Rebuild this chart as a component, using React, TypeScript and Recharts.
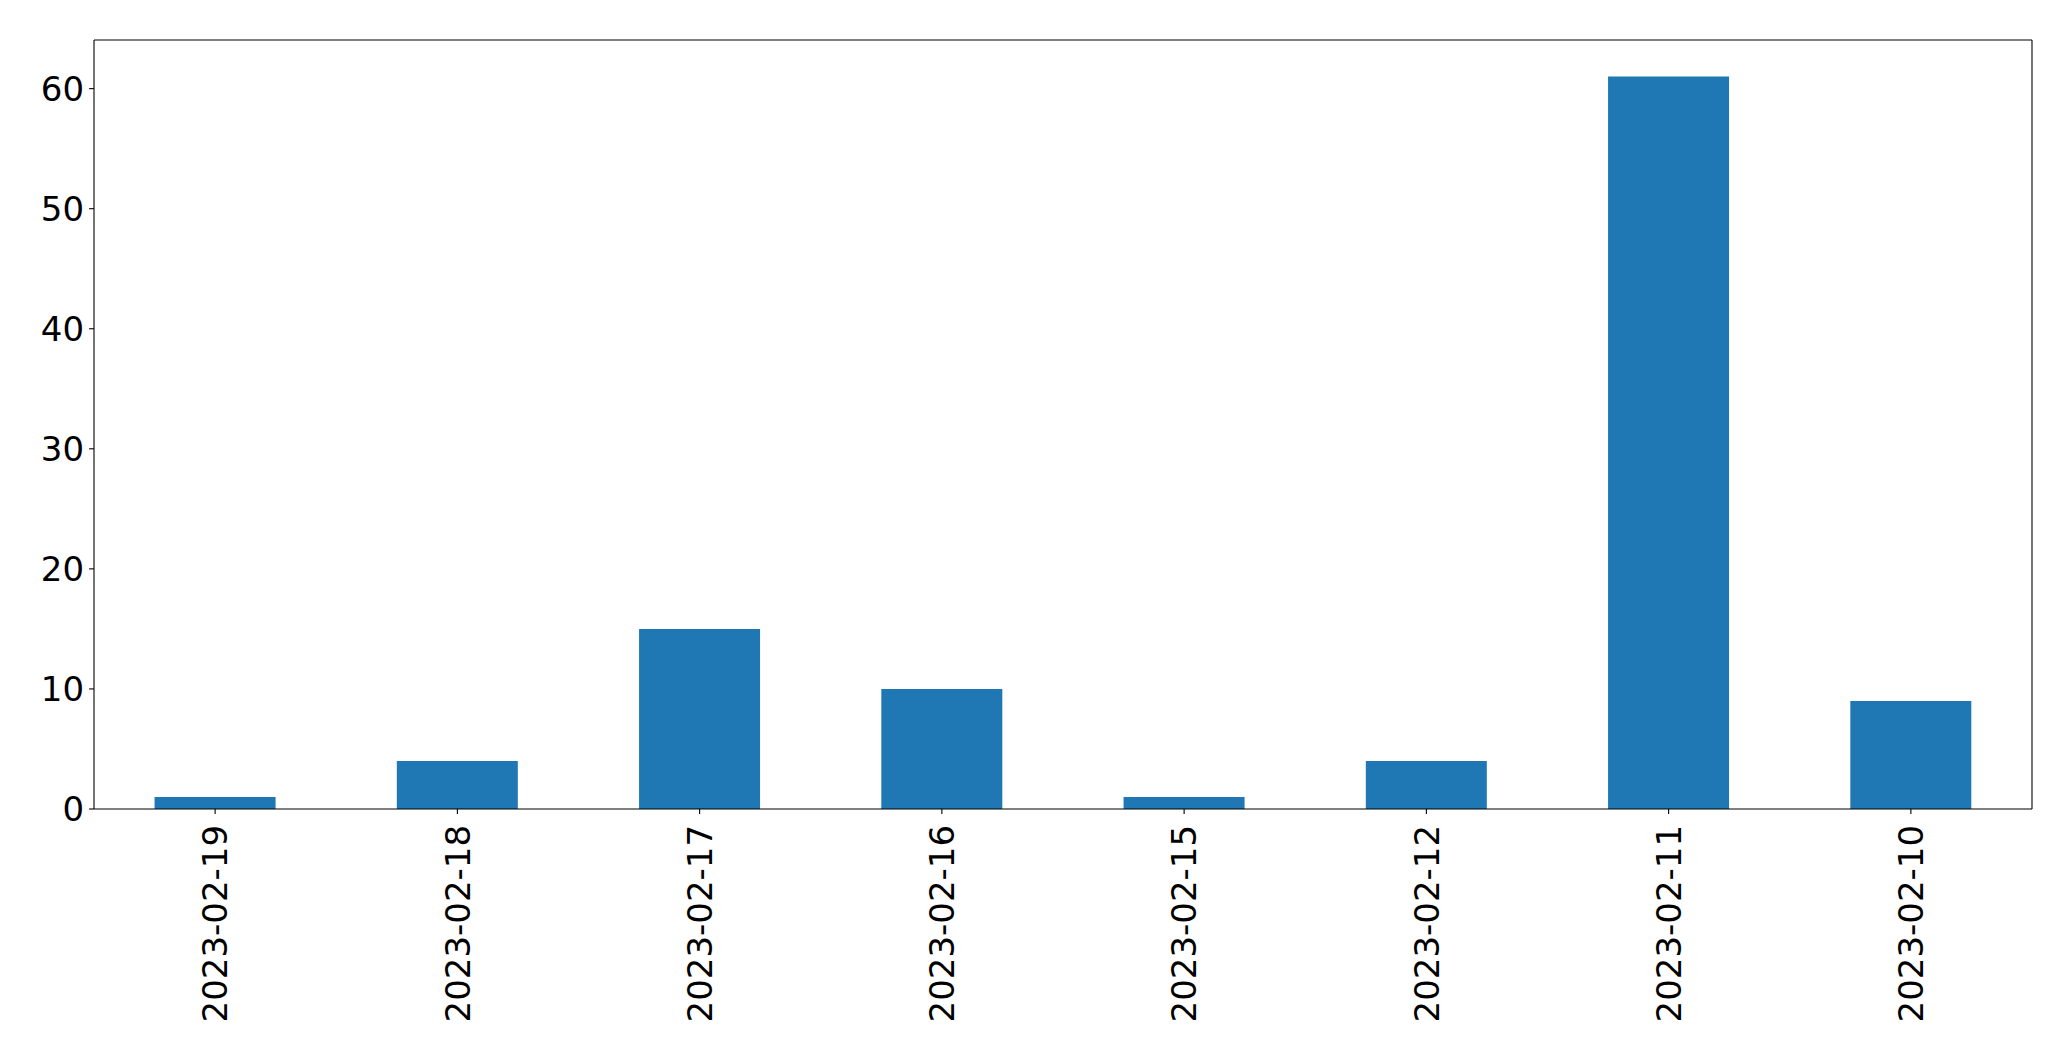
import { BarChart, Bar, XAxis, YAxis } from 'recharts';

// Category labels and counts
const dates = [
  '2023-02-19',
  '2023-02-18',
  '2023-02-17',
  '2023-02-16',
  '2023-02-15',
  '2023-02-12',
  '2023-02-11',
  '2023-02-10',
];
const counts = [1, 4, 15, 10, 1, 4, 61, 9];
const yTicks = [0, 10, 20, 30, 40, 50, 60];

const data = dates.map((date, i) => ({ date, count: counts[i] }));

const FONT = '"DejaVu Sans", sans-serif';
const FONT_SIZE = 34;
const LINE = { stroke: '#000', strokeWidth: 1.1, strokeOpacity: 1 };

// Rotated x tick label, reading bottom to top like matplotlib's rotation=90
const RotatedTick = (props: any) => {
  const { x, y, payload } = props;
  return (
    <g transform={`translate(${x},${y}) rotate(-90)`}>
      <text
        x={0}
        y={0}
        dy="0.36em"
        textAnchor="end"
        fill="#000"
        fontFamily={FONT}
        fontSize={FONT_SIZE}
      >
        {payload.value}
      </text>
    </g>
  );
};

const YTick = (props: any) => {
  const { x, y, payload } = props;
  return (
    <text
      x={x}
      y={y}
      dy="0.36em"
      textAnchor="end"
      fill="#000"
      fontFamily={FONT}
      fontSize={FONT_SIZE}
    >
      {payload.value}
    </text>
  );
};

export default function App() {
  return (
    <div style={{ position: 'absolute', left: 0, top: 0, background: '#fff' }}>
      <BarChart
        width={2071}
        height={1061}
        data={data}
        margin={{ top: 39, right: 38, bottom: 0, left: 0 }}
        barCategoryGap="25%"
      >
        <XAxis
          dataKey="date"
          interval={0}
          stroke="#000"
          axisLine={LINE}
          tickLine={LINE}
          tickSize={4.9}
          tickMargin={11}
          height={252}
          tick={<RotatedTick />}
        />
        <XAxis
          xAxisId="top"
          dataKey="date"
          orientation="top"
          stroke="#000"
          axisLine={LINE}
          height={1}
          tick={false}
          tickLine={false}
        />
        <YAxis
          domain={[0, 64.05]}
          ticks={yTicks}
          width={94}
          stroke="#000"
          axisLine={LINE}
          tickLine={LINE}
          tickSize={4.9}
          tickMargin={5}
          tick={<YTick />}
        />
        <YAxis
          yAxisId="right"
          orientation="right"
          stroke="#000"
          axisLine={LINE}
          width={1}
          tick={false}
          tickLine={false}
        />
        <Bar dataKey="count" fill="#1f77b4" isAnimationActive={false} />
      </BarChart>
    </div>
  );
}
